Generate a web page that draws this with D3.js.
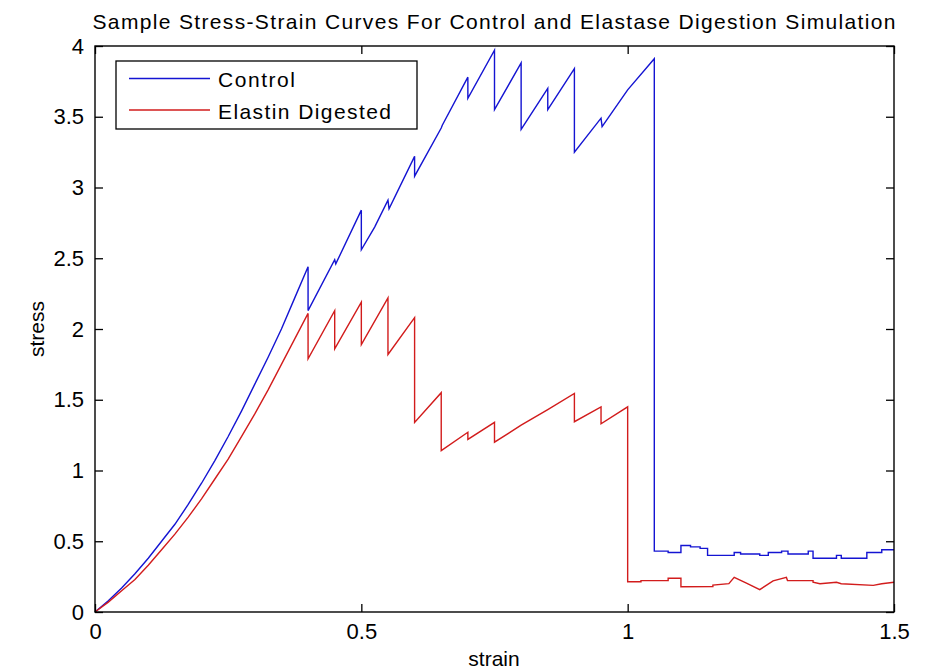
<!DOCTYPE html>
<html>
<head>
<meta charset="utf-8">
<script src="https://cdn.jsdelivr.net/npm/d3@7"></script>
<style>
  html, body { margin: 0; padding: 0; background: #ffffff; }
  svg { display: block; }
  text { font-family: "Liberation Sans", Arial, Helvetica, sans-serif; fill: #000; }
</style>
</head>
<body>
<svg id="chart" width="925" height="669"></svg>
<script>
// Stress-strain curves: control tissue vs. elastin-digested tissue
const chartTitle = "Sample Stress-Strain Curves For Control and Elastase Digestion Simulation";
const seriesNames = ["Control", "Elastin Digested"];
const seriesColors = ["#1414d2", "#d21c1c"];

const controlStrain = [0, 0.025, 0.05, 0.075, 0.1, 0.125, 0.15, 0.175, 0.2, 0.225, 0.25, 0.275, 0.3, 0.325, 0.35, 0.375,
  0.4, 0.4, 0.45, 0.452, 0.5, 0.5, 0.525, 0.55, 0.552, 0.6, 0.6, 0.65, 0.652, 0.7, 0.7, 0.75, 0.75, 0.8, 0.8, 0.85, 0.85,
  0.9, 0.9, 0.95, 0.952, 1.0, 1.05, 1.05, 1.076, 1.076, 1.1, 1.1, 1.118, 1.118, 1.136, 1.136, 1.15, 1.15, 1.2, 1.2, 1.212, 1.212,
  1.248, 1.248, 1.264, 1.264, 1.289, 1.289, 1.301, 1.301, 1.339, 1.339, 1.348, 1.348, 1.392, 1.392, 1.401, 1.401,
  1.449, 1.449, 1.477, 1.477, 1.5];
const controlStress = [0, 0.08, 0.17, 0.27, 0.38, 0.5, 0.62, 0.76, 0.91, 1.07, 1.24, 1.42, 1.61, 1.8, 2.0, 2.22,
  2.44, 2.13, 2.49, 2.46, 2.84, 2.56, 2.72, 2.91, 2.85, 3.22, 3.08, 3.42, 3.44, 3.78, 3.63, 3.97, 3.55, 3.88, 3.41, 3.7, 3.55,
  3.84, 3.25, 3.49, 3.43, 3.69, 3.91, 0.43, 0.43, 0.42, 0.42, 0.47, 0.47, 0.46, 0.46, 0.45, 0.45, 0.4, 0.4, 0.42, 0.42, 0.41,
  0.41, 0.4, 0.4, 0.42, 0.42, 0.43, 0.43, 0.41, 0.41, 0.43, 0.43, 0.38, 0.38, 0.4, 0.4, 0.38,
  0.38, 0.42, 0.42, 0.44, 0.44];

const digestedStrain = [0, 0.025, 0.05, 0.075, 0.1, 0.125, 0.15, 0.175, 0.2, 0.225, 0.25, 0.275, 0.3, 0.325, 0.35, 0.375,
  0.4, 0.4, 0.45, 0.45, 0.5, 0.5, 0.55, 0.55, 0.6, 0.6, 0.65, 0.65, 0.7, 0.7, 0.75, 0.75, 0.8, 0.85, 0.9, 0.9, 0.95, 0.95,
  1.0, 1.0, 1.025, 1.025, 1.076, 1.076, 1.1, 1.1, 1.16, 1.16, 1.19, 1.2, 1.222, 1.248, 1.273, 1.298, 1.3, 1.348, 1.348,
  1.361, 1.392, 1.401, 1.461, 1.477, 1.5];
const digestedStress = [0, 0.07, 0.15, 0.23, 0.33, 0.44, 0.55, 0.67, 0.8, 0.94, 1.08, 1.24, 1.4, 1.57, 1.75, 1.93,
  2.11, 1.79, 2.13, 1.86, 2.19, 1.89, 2.22, 1.82, 2.08, 1.34, 1.55, 1.14, 1.27, 1.22, 1.34, 1.2, 1.32, 1.43, 1.545, 1.345, 1.45, 1.33,
  1.45, 0.214, 0.214, 0.222, 0.222, 0.238, 0.238, 0.178, 0.18, 0.19, 0.2, 0.245, 0.205, 0.158, 0.22, 0.245, 0.222, 0.222, 0.21,
  0.2, 0.21, 0.2, 0.188, 0.2, 0.21];

const xTicks = [0, 0.5, 1, 1.5];
const xTickLabels = ["0", "0.5", "1", "1.5"];
const yTicks = [0, 0.5, 1, 1.5, 2, 2.5, 3, 3.5, 4];
const yTickLabels = ["0", "0.5", "1", "1.5", "2", "2.5", "3", "3.5", "4"];

const plot = { left: 95, right: 894, top: 46, bottom: 612 };
const svg = d3.select("#chart");

const x = d3.scaleLinear().domain([0, 1.5]).range([plot.left, plot.right]);
const y = d3.scaleLinear().domain([0, 4]).range([plot.bottom, plot.top]);

// Title
svg.append("text")
  .attr("x", 494).attr("y", 29)
  .attr("text-anchor", "middle")
  .attr("font-size", 21)
  .attr("textLength", 803).attr("lengthAdjust", "spacing")
  .text(chartTitle);

// Curves (control first, digested drawn on top)
const line = d3.line().x(d => x(d[0])).y(d => y(d[1]));
const series = [
  d3.zip(controlStrain, controlStress),
  d3.zip(digestedStrain, digestedStress)
];
series.forEach((pts, i) => {
  svg.append("path")
    .datum(pts)
    .attr("fill", "none")
    .attr("stroke", seriesColors[i])
    .attr("stroke-width", 1.4)
    .attr("stroke-linejoin", "miter")
    .attr("d", line);
});

// Axes with inward ticks on all four sides
function styleAxis(g) {
  g.select(".domain").remove();
  g.selectAll(".tick line").attr("stroke", "#000").attr("stroke-width", 1.3);
  g.selectAll(".tick text").attr("font-size", 22).attr("font-family", "Liberation Sans, Arial, sans-serif");
}

svg.append("g")
  .attr("transform", `translate(0,${plot.bottom})`)
  .call(d3.axisBottom(x).tickValues(xTicks).tickFormat((d, i) => xTickLabels[i]).tickSizeInner(-8).tickSizeOuter(0).tickPadding(11))
  .call(styleAxis);

svg.append("g")
  .attr("transform", `translate(0,${plot.top})`)
  .call(d3.axisTop(x).tickValues(xTicks).tickFormat("").tickSizeInner(-8).tickSizeOuter(0))
  .call(styleAxis);

svg.append("g")
  .attr("transform", `translate(${plot.left},0)`)
  .call(d3.axisLeft(y).tickValues(yTicks).tickFormat((d, i) => yTickLabels[i]).tickSizeInner(-8).tickSizeOuter(0).tickPadding(11))
  .call(styleAxis);

svg.append("g")
  .attr("transform", `translate(${plot.right},0)`)
  .call(d3.axisRight(y).tickValues(yTicks).tickFormat("").tickSizeInner(-8).tickSizeOuter(0))
  .call(styleAxis);

// Axes box
svg.append("rect")
  .attr("x", plot.left).attr("y", plot.top)
  .attr("width", plot.right - plot.left).attr("height", plot.bottom - plot.top)
  .attr("fill", "none").attr("stroke", "#000").attr("stroke-width", 1.4);

// Axis labels
svg.append("text")
  .attr("x", 494).attr("y", 666)
  .attr("text-anchor", "middle")
  .attr("font-size", 21)
  .text("strain");

svg.append("text")
  .attr("transform", `translate(44,${(plot.top + plot.bottom) / 2}) rotate(-90)`)
  .attr("text-anchor", "middle")
  .attr("font-size", 21)
  .text("stress");

// Legend
const legend = svg.append("g");
legend.append("rect")
  .attr("x", 116).attr("y", 61).attr("width", 301).attr("height", 68)
  .attr("fill", "#fff").attr("stroke", "#000").attr("stroke-width", 1.3);
const rowY = [78.5, 110];
const textLengths = [77, 173];
seriesNames.forEach((name, i) => {
  legend.append("line")
    .attr("x1", 129).attr("x2", 210)
    .attr("y1", rowY[i]).attr("y2", rowY[i])
    .attr("stroke", seriesColors[i]).attr("stroke-width", 1.4);
  legend.append("text")
    .attr("x", 218).attr("y", rowY[i] + 8.5)
    .attr("font-size", 21)
    .attr("textLength", textLengths[i]).attr("lengthAdjust", "spacing")
    .text(name);
});
</script>
</body>
</html>
